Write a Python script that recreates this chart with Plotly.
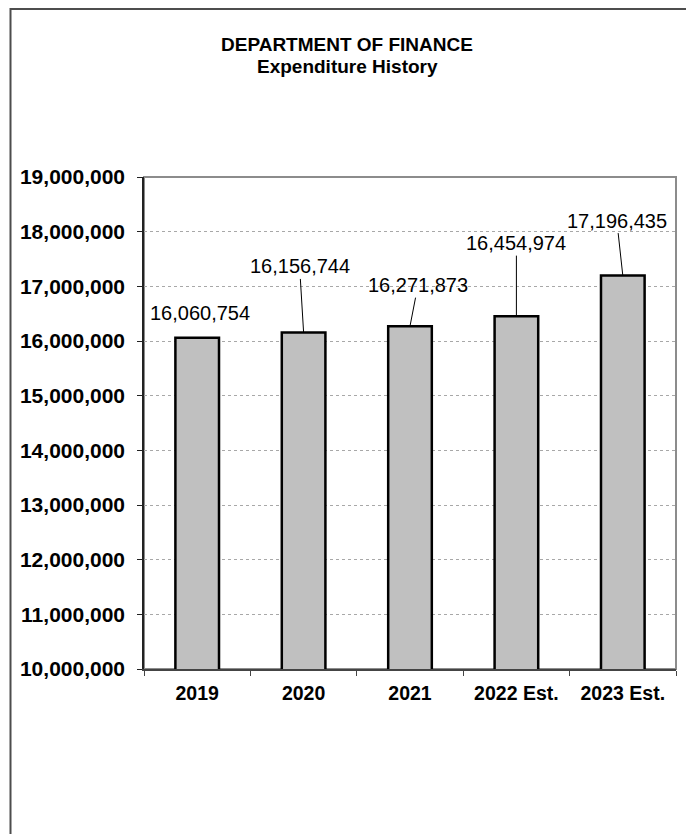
import plotly.graph_objects as go

categories = ["2019", "2020", "2021", "2022 Est.", "2023 Est."]
values = [16060754, 16156744, 16271873, 16454974, 17196435]
label_texts = ["16,060,754", "16,156,744", "16,271,873", "16,454,974", "17,196,435"]
y_tick_values = [10000000, 11000000, 12000000, 13000000, 14000000,
                 15000000, 16000000, 17000000, 18000000, 19000000]
y_tick_labels = ["10,000,000", "11,000,000", "12,000,000", "13,000,000", "14,000,000",
                 "15,000,000", "16,000,000", "17,000,000", "18,000,000", "19,000,000"]
title_lines = ["DEPARTMENT OF FINANCE", "Expenditure History"]

# label offsets (pixels) and whether a leader line is drawn
label_ax = [3, -4, 8, 0, -6]
label_ay = [-25, -66, -41, -73, -55]
leader = [False, True, True, True, True]

FONT = "Liberation Sans, Arial, sans-serif"
OFF = 8  # page body margin
W, H = 686, 826
L, R, T, B = 136, 18, 169, 165
PW, PH = W - L - R, H - T - B


def px_x(page_x):
    return (page_x - OFF - L) / PW


def px_y(page_y):
    return (H - B - (page_y - OFF)) / PH


fig = go.Figure()
fig.add_trace(go.Bar(
    x=categories, y=values,
    marker=dict(color="#C0C0C0", line=dict(color="black", width=2.5)),
    width=0.41,
    hoverinfo="skip",
))

for i, (v, t, ax, ay, ld) in enumerate(zip(values, label_texts, label_ax, label_ay, leader)):
    fig.add_annotation(
        x=i, y=v, xref="x", yref="y", text=t, showarrow=True, arrowhead=0, arrowwidth=1,
        arrowcolor="black" if ld else "rgba(0,0,0,0)",
        ax=ax, ay=ay, standoff=0,
        font=dict(family=FONT, size=20, color="black"),
    )

title_y = [44, 66]
for line, ty in zip(title_lines, title_y):
    fig.add_annotation(
        xref="paper", yref="paper", x=px_x(347), y=px_y(ty),
        text="<b>" + line + "</b>", showarrow=False,
        xanchor="center", yanchor="middle",
        font=dict(family=FONT, size=19, color="black"),
    )

# plot area border (top/right gray)
fig.add_shape(type="rect", xref="paper", yref="paper", x0=0, x1=1, y0=0, y1=1,
              line=dict(color="#8c8c8c", width=2), layer="below")
# outer chart border
fig.add_shape(type="rect", xref="paper", yref="paper",
              x0=px_x(10.5), x1=px_x(691), y0=px_y(850), y1=px_y(9),
              line=dict(color="#4d4d4d", width=2))

fig.update_layout(
    width=W, height=H,
    margin=dict(l=L, r=R, t=T, b=B, autoexpand=False),
    paper_bgcolor="white", plot_bgcolor="white",
    showlegend=False,
    font=dict(family=FONT, color="black"),
)

fig.update_yaxes(
    range=[10000000, 19000000],
    tickvals=y_tick_values, ticktext=y_tick_labels,
    tickfont=dict(family=FONT, size=21, color="black", weight="bold"),
    showgrid=True, gridcolor="#a8a8a8", griddash="dot", gridwidth=1,
    showline=True, linecolor="#222222", linewidth=1.5,
    ticks="outside", ticklen=5, tickcolor="#222222", tickwidth=1,
    ticklabelstandoff=8,
    zeroline=False, automargin=False,
)
fig.update_xaxes(
    type="category", range=[-0.5, len(categories) - 0.5],
    tickfont=dict(family=FONT, size=19.5, color="black", weight="bold"),
    showline=True, linecolor="#444444", linewidth=1.5,
    ticks="outside", tickson="boundaries", ticklen=5, tickcolor="#444444",
    tickangle=0, ticklabelstandoff=6,
    showgrid=False, automargin=False,
)

fig.write_html("out.html")
